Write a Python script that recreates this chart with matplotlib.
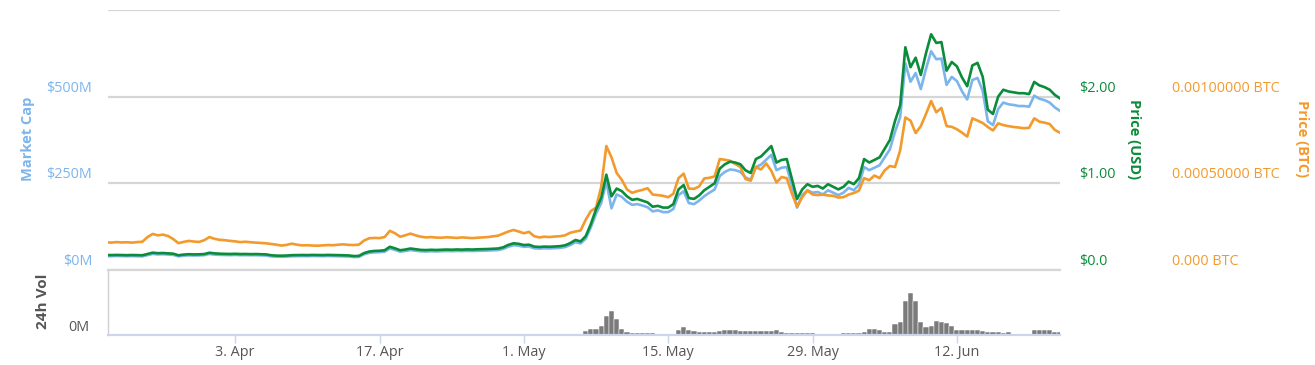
import matplotlib
matplotlib.use("Agg")
import matplotlib.pyplot as plt
import matplotlib.transforms as mtransforms
import pandas as pd
import numpy as np

plt.rcParams['font.family'] = ['Open Sans', 'DejaVu Sans']

# ---------------- data (12-hour samples from 2017-03-21 12:00) ----------------
start = '2017-03-21 12:00'

price_usd = [
    0.173, 0.172, 0.174, 0.172, 0.171, 0.173, 0.172, 0.170, 0.185, 0.200,
    0.194, 0.196, 0.192, 0.188, 0.170, 0.178, 0.182, 0.180, 0.181, 0.184,
    0.199, 0.192, 0.188, 0.186, 0.185, 0.187, 0.184, 0.185, 0.183, 0.184,
    0.182, 0.180, 0.170, 0.166, 0.165, 0.167, 0.171, 0.172, 0.173, 0.172,
    0.174, 0.173, 0.172, 0.174, 0.173, 0.172, 0.170, 0.168, 0.161, 0.163,
    0.195, 0.213, 0.220, 0.222, 0.228, 0.268, 0.250, 0.228, 0.236, 0.248,
    0.240, 0.232, 0.230, 0.233, 0.231, 0.234, 0.236, 0.234, 0.237, 0.235,
    0.238, 0.236, 0.239, 0.240, 0.242, 0.245, 0.248, 0.262, 0.290, 0.308,
    0.302, 0.288, 0.292, 0.270, 0.266, 0.270, 0.268, 0.272, 0.275, 0.285,
    0.310, 0.346, 0.330, 0.390, 0.530, 0.700, 0.830, 1.100, 0.850, 0.940,
    0.910, 0.850, 0.810, 0.820, 0.800, 0.780, 0.730, 0.740, 0.720, 0.720,
    0.760, 0.930, 0.980, 0.830, 0.820, 0.860, 0.920, 0.960, 1.000, 1.170,
    1.220, 1.250, 1.240, 1.220, 1.150, 1.120, 1.280, 1.310, 1.370, 1.430,
    1.240, 1.270, 1.280, 1.050, 0.820, 0.930, 0.990, 0.960, 0.970, 0.940,
    0.990, 0.960, 0.930, 0.960, 1.020, 0.990, 1.060, 1.280, 1.240, 1.270,
    1.300, 1.400, 1.500, 1.720, 1.900, 2.570, 2.340, 2.450, 2.250, 2.500,
    2.720, 2.620, 2.630, 2.300, 2.400, 2.350, 2.220, 2.120, 2.360, 2.390,
    2.230, 1.850, 1.800, 2.000, 2.080, 2.060, 2.050, 2.040, 2.040, 2.030,
    2.170, 2.130, 2.110, 2.080, 2.020, 1.980,
]

price_btc = [
    0.000160, 0.000158, 0.000161, 0.000159, 0.000160, 0.000158, 0.000161, 0.000163, 0.000190, 0.000208,
    0.000200, 0.000204, 0.000196, 0.000178, 0.000155, 0.000162, 0.000168, 0.000164, 0.000162, 0.000172,
    0.000190, 0.000180, 0.000174, 0.000172, 0.000168, 0.000165, 0.000161, 0.000163, 0.000160, 0.000158,
    0.000156, 0.000154, 0.000150, 0.000146, 0.000141, 0.000145, 0.000152, 0.000146, 0.000142, 0.000143,
    0.000141, 0.000140, 0.000142, 0.000144, 0.000143, 0.000146, 0.000148, 0.000145, 0.000144, 0.000146,
    0.000170, 0.000183, 0.000185, 0.000184, 0.000190, 0.000226, 0.000212, 0.000192, 0.000200, 0.000210,
    0.000200, 0.000192, 0.000188, 0.000190, 0.000187, 0.000186, 0.000189, 0.000187, 0.000185, 0.000188,
    0.000186, 0.000184, 0.000186, 0.000188, 0.000190, 0.000194, 0.000198, 0.000210, 0.000222, 0.000231,
    0.000222, 0.000212, 0.000220, 0.000195, 0.000188, 0.000192, 0.000190, 0.000193, 0.000195, 0.000200,
    0.000215, 0.000222, 0.000228, 0.000290, 0.000340, 0.000360, 0.000480, 0.000715, 0.000650, 0.000560,
    0.000520, 0.000465, 0.000445, 0.000455, 0.000462, 0.000472, 0.000435, 0.000432, 0.000428, 0.000420,
    0.000440, 0.000530, 0.000556, 0.000470, 0.000468, 0.000482, 0.000528, 0.000532, 0.000540, 0.000640,
    0.000636, 0.000630, 0.000612, 0.000594, 0.000525, 0.000515, 0.000594, 0.000580, 0.000615, 0.000572,
    0.000505, 0.000536, 0.000530, 0.000440, 0.000365, 0.000420, 0.000458, 0.000436, 0.000432, 0.000435,
    0.000430, 0.000428, 0.000418, 0.000420, 0.000435, 0.000444, 0.000458, 0.000530, 0.000518, 0.000545,
    0.000530, 0.000575, 0.000600, 0.000594, 0.000690, 0.000880, 0.000862, 0.000790, 0.000830, 0.000900,
    0.000975, 0.000910, 0.000935, 0.000830, 0.000826, 0.000812, 0.000792, 0.000770, 0.000875, 0.000862,
    0.000848, 0.000825, 0.000805, 0.000846, 0.000836, 0.000830, 0.000825, 0.000822, 0.000818, 0.000820,
    0.000875, 0.000856, 0.000850, 0.000842, 0.000808, 0.000792,
]

market_cap_m = [
    40.1, 39.9, 40.4, 39.9, 39.7, 40.1, 39.9, 39.4, 42.9, 46.4,
    45.0, 45.5, 44.5, 43.6, 39.4, 41.3, 42.2, 41.8, 42.0, 42.7,
    46.2, 44.5, 43.6, 43.2, 42.9, 43.4, 42.7, 42.9, 42.5, 42.7,
    42.2, 41.8, 39.4, 38.5, 38.3, 38.7, 39.7, 39.9, 40.1, 39.9,
    40.4, 40.1, 39.9, 40.4, 40.1, 39.9, 39.4, 39.0, 37.4, 37.8,
    45.2, 49.4, 51.0, 51.5, 52.9, 62.2, 58.0, 52.9, 54.8, 57.5,
    55.7, 53.8, 53.4, 54.1, 53.6, 54.3, 54.8, 54.3, 55.0, 54.5,
    55.2, 54.8, 55.4, 55.7, 56.1, 56.8, 57.5, 60.8, 67.3, 71.5,
    70.1, 66.8, 67.7, 62.6, 61.7, 62.6, 62.2, 63.1, 63.8, 66.1,
    71.9, 80.3, 76.6, 90.5, 123, 162, 193, 255, 178, 218,
    211, 197, 188, 190, 186, 181, 169, 172, 167, 167,
    176, 216, 227, 193, 190, 200, 213, 223, 232, 271,
    283, 290, 288, 283, 267, 260, 297, 304, 318, 332,
    288, 295, 297, 244, 180, 216, 230, 223, 225, 218,
    230, 223, 216, 223, 237, 230, 246, 297, 288, 295,
    302, 325, 348, 399, 441, 596, 543, 568, 522, 580,
    631, 608, 610, 534, 557, 545, 515, 492, 548, 554,
    517, 429, 418, 464, 483, 478, 476, 473, 473, 471,
    503, 494, 490, 483, 469, 459,
]

volume_m = [0.0] * 56 + [0.6] + [0.0] * 36 + [
    3.2, 4.5, 4.6, 7.0, 15.0, 18.4, 12.0, 4.5, 2.5, 1.5,
    1.5, 1.4, 1.5, 1.5, 0.3, 0.0, 0.0, 0.0, 4.0, 6.3,
    4.0, 3.2, 2.4, 2.3, 2.2, 2.3, 3.0, 3.8, 3.6, 3.7,
    3.0, 3.0, 3.1, 2.9, 3.1, 3.0, 3.2, 3.8, 2.5, 1.6,
    1.5, 1.6, 1.5, 1.6, 1.2, 0.0, 0.0, 0.8, 0.8, 0.6,
    1.4, 1.5, 1.5, 1.6, 2.5, 4.5, 4.6, 3.5, 2.3, 2.2,
    8.3, 10.0, 26.0, 32.4, 26.0, 10.0, 6.3, 7.0, 10.4, 10.2,
    9.6, 7.0, 4.2, 3.8, 3.8, 3.9, 3.6, 3.2, 2.2, 2.0,
    2.0, 1.9, 2.0, 1.0, 0.8, 0.8, 0.9, 3.5, 4.0, 3.8,
    3.6, 2.4, 2.2,
]

mcap_ticks = [0, 250, 500, 750]
mcap_labels = ['$0M', '$250M', '$500M', '']
usd_ticks = [0.0, 1.0, 2.0]
usd_labels = ['$0.0', '$1.00', '$2.00']
btc_ticks = [0.0, 0.0005, 0.0010]
btc_labels = ['0.000 BTC', '0.00050000 BTC', '0.00100000 BTC']
date_ticks = ['2017-04-03', '2017-04-17', '2017-05-01', '2017-05-15', '2017-05-29', '2017-06-12']
date_labels = ['3. Apr', '17. Apr', '1. May', '15. May', '29. May', '12. Jun']

dates = pd.date_range(start=start, periods=len(price_usd), freq='12h')

# ---------------- style ----------------
C_BLUE = '#7cb5ec'
C_GREEN = '#0b8c3a'
C_ORANGE = '#f39a2d'
C_GRID = '#d6d6d6'
C_AXIS = '#ccd6eb'
C_TEXT = '#555555'

W, H = 1315, 365
fig = plt.figure(figsize=(W / 100, H / 100), dpi=100)

def fx(px):
    return px / W

def fy(py):
    return 1 - py / H

L, R = 108, 1060
ax = fig.add_axes([fx(L), fy(270), fx(R - L), fy(10) - fy(270)])
vax = fig.add_axes([fx(L), fy(335), fx(R - L), fy(270) - fy(335)], sharex=ax)

xmin = pd.Timestamp('2017-03-21 16:00')
xmax = pd.Timestamp('2017-06-22 00:00')

# market cap axis
ax.plot(dates, market_cap_m, color=C_BLUE, lw=1.9, zorder=3, solid_joinstyle='round')
ax.set_ylim(0, 750)
ax.set_yticks(mcap_ticks)
ax.yaxis.grid(True, color=C_GRID, lw=1.6)
ax.set_axisbelow(True)
ax.tick_params(axis='both', length=0, labelleft=False, labelbottom=False)
for s in ax.spines.values():
    s.set_visible(False)
ax.patch.set_alpha(0)

ax_btc = ax.twinx()
ax_btc.plot(dates, price_btc, color=C_ORANGE, lw=1.9, solid_joinstyle='round')
ax_btc.set_ylim(0, 0.0015)

ax_usd = ax.twinx()
ax_usd.plot(dates, price_usd, color=C_GREEN, lw=1.9, solid_joinstyle='round')
ax_usd.set_ylim(0, 3.0)

for a in (ax_btc, ax_usd):
    a.set_yticks([])
    for s in a.spines.values():
        s.set_visible(False)
    a.tick_params(length=0, labelbottom=False)

ax.set_xlim(xmin, xmax)

# axis labels as text tied to data values
fs = 10.4
def ylab(axis, values, labels, xpx, ha, color):
    tr = mtransforms.blended_transform_factory(fig.transFigure, axis.transData)
    tr = mtransforms.offset_copy(tr, fig=fig, x=0, y=8.5, units='dots')
    for v, lab in zip(values, labels):
        if lab:
            fig.text(fx(xpx), v, lab, transform=tr, ha=ha, va='center',
                     color=color, fontsize=fs)

ylab(ax, mcap_ticks, mcap_labels, 92, 'right', C_BLUE)
ylab(ax_usd, usd_ticks, usd_labels, 1079, 'left', C_GREEN)
ylab(ax_btc, btc_ticks, btc_labels, 1172, 'left', C_ORANGE)

fig.text(fx(28), fy(139), 'Market Cap', rotation=90, ha='center', va='center',
         color=C_BLUE, fontsize=10.5, fontweight='bold')
fig.text(fx(1134), fy(139), 'Price (USD)', rotation=-90, ha='center', va='center',
         color=C_GREEN, fontsize=10.5, fontweight='bold')
fig.text(fx(1302), fy(139), 'Price (BTC)', rotation=-90, ha='center', va='center',
         color=C_ORANGE, fontsize=10.5, fontweight='bold')

# volume panel
vax.bar(dates, volume_m, width=0.5, color='#7b7b7b', edgecolor='white', linewidth=0.35)
vax.set_ylim(0, 50)
vax.set_yticks([])
vax.spines['right'].set_visible(False)
vax.spines['top'].set_color(C_GRID)
vax.spines['top'].set_linewidth(1.6)
vax.spines['left'].set_color('#d0d0d0')
vax.spines['left'].set_linewidth(1.0)
vax.spines['bottom'].set_color(C_AXIS)
vax.spines['bottom'].set_linewidth(1.6)
vax.set_xticks(pd.to_datetime(date_ticks))
vax.set_xticklabels(date_labels)
vax.tick_params(axis='x', length=6, width=1, color=C_AXIS, labelcolor=C_TEXT,
                labelsize=fs, pad=1.5)
vax.set_xlim(xmin, xmax)

trv = mtransforms.offset_copy(
    mtransforms.blended_transform_factory(fig.transFigure, vax.transData),
    fig=fig, x=0, y=7.5, units='dots')
fig.text(fx(89), 0, '0M', transform=trv, ha='right', va='center', color=C_TEXT, fontsize=fs)
fig.text(fx(43), fy(301), '24h Vol', rotation=90, ha='center', va='center',
         color=C_TEXT, fontsize=11, fontweight='bold')

fig.savefig('out.png', dpi=100)
